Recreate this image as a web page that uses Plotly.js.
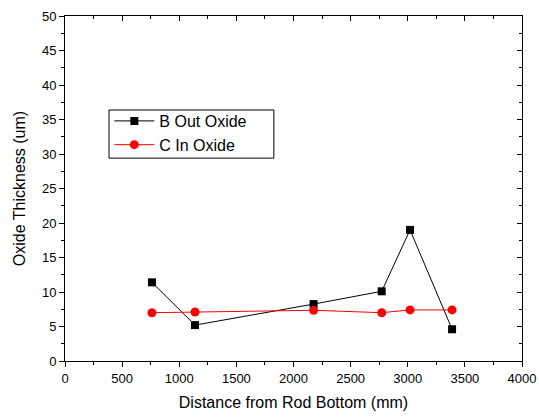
<!DOCTYPE html>
<html>
<head>
<script src="https://cdn.plot.ly/plotly-3.0.1.min.js"></script>
<style>html,body{margin:0;padding:0;background:#fff;}#chart{width:539px;height:419px;}</style>
</head>
<body>
<div id="chart"></div>
<script>
var distB = [761, 1138, 2176, 2772, 3020, 3388];
var oxideB = [11.4, 5.2, 8.25, 10.1, 19.0, 4.6];
var distC = [761, 1138, 2176, 2772, 3020, 3388];
var oxideC = [7.0, 7.1, 7.35, 7.0, 7.4, 7.4];
var nameB = 'B Out Oxide';
var nameC = 'C In Oxide';

var font = 'Liberation Sans, Arial, sans-serif';
var traces = [
  {x: distB, y: oxideB, name: nameB, mode: 'lines+markers', type: 'scatter',
   line: {color: '#000', width: 1}, marker: {symbol: 'square', size: 8, color: '#000'}},
  {x: distC, y: oxideC, name: nameC, mode: 'lines+markers', type: 'scatter',
   line: {color: '#ff0000', width: 1}, marker: {symbol: 'circle', size: 9, color: '#ff0000'}}
];
var common = {showgrid: false, zeroline: false, showline: true, linecolor: '#000', linewidth: 1,
  tickcolor: '#000', ticklen: 5, tickwidth: 1, tickfont: {family: font, size: 13, color: '#000'}};
var layout = {
  width: 539, height: 419,
  margin: {l: 65, r: 17, t: 16, b: 58},
  paper_bgcolor: '#fff', plot_bgcolor: '#fff',
  showlegend: true,
  legend: {x: 0.097, y: 0.745, xanchor: 'left', yanchor: 'top', borderwidth: 0,
    bgcolor: 'rgba(0,0,0,0)', font: {family: font, size: 16, color: '#000'}, tracegroupgap: 0, itemwidth: 40},
  shapes: [{type: 'rect', xref: 'paper', yref: 'paper', x0: 0.0963, x1: 0.457, y0: 0.588, y1: 0.7275,
    line: {color: '#000', width: 1}, fillcolor: '#fff', layer: 'below'}],
  xaxis: Object.assign({}, common, {range: [0, 4000], dtick: 500, tick0: 0, ticks: 'outside',
    minor: {dtick: 250, ticklen: 3, ticks: 'outside', tickcolor: '#000'},
    title: {text: 'Distance from Rod Bottom (mm)', font: {family: font, size: 16, color: '#000'}, standoff: 12}}),
  yaxis: Object.assign({}, common, {range: [0, 50], dtick: 5, tick0: 0, ticks: 'outside',
    minor: {dtick: 2.5, ticklen: 3, ticks: 'outside', tickcolor: '#000'},
    title: {text: 'Oxide Thickness (um)', font: {family: font, size: 16, color: '#000'}, standoff: 12}}),
  xaxis2: Object.assign({}, common, {range: [0, 4000], dtick: 500, tick0: 0, ticks: 'inside',
    overlaying: 'x', side: 'top', showticklabels: false,
    minor: {dtick: 250, ticklen: 3, ticks: 'inside', tickcolor: '#000'}}),
  yaxis2: Object.assign({}, common, {range: [0, 50], dtick: 5, tick0: 0, ticks: 'inside',
    overlaying: 'y', side: 'right', showticklabels: false,
    minor: {dtick: 2.5, ticklen: 3, ticks: 'inside', tickcolor: '#000'}})
};
traces.push({x: [0], y: [0], xaxis: 'x2', yaxis: 'y2', mode: 'markers', marker: {opacity: 0}, showlegend: false, hoverinfo: 'skip'});
Plotly.newPlot('chart', traces, layout, {displayModeBar: false, staticPlot: true});
</script>
</body>
</html>
